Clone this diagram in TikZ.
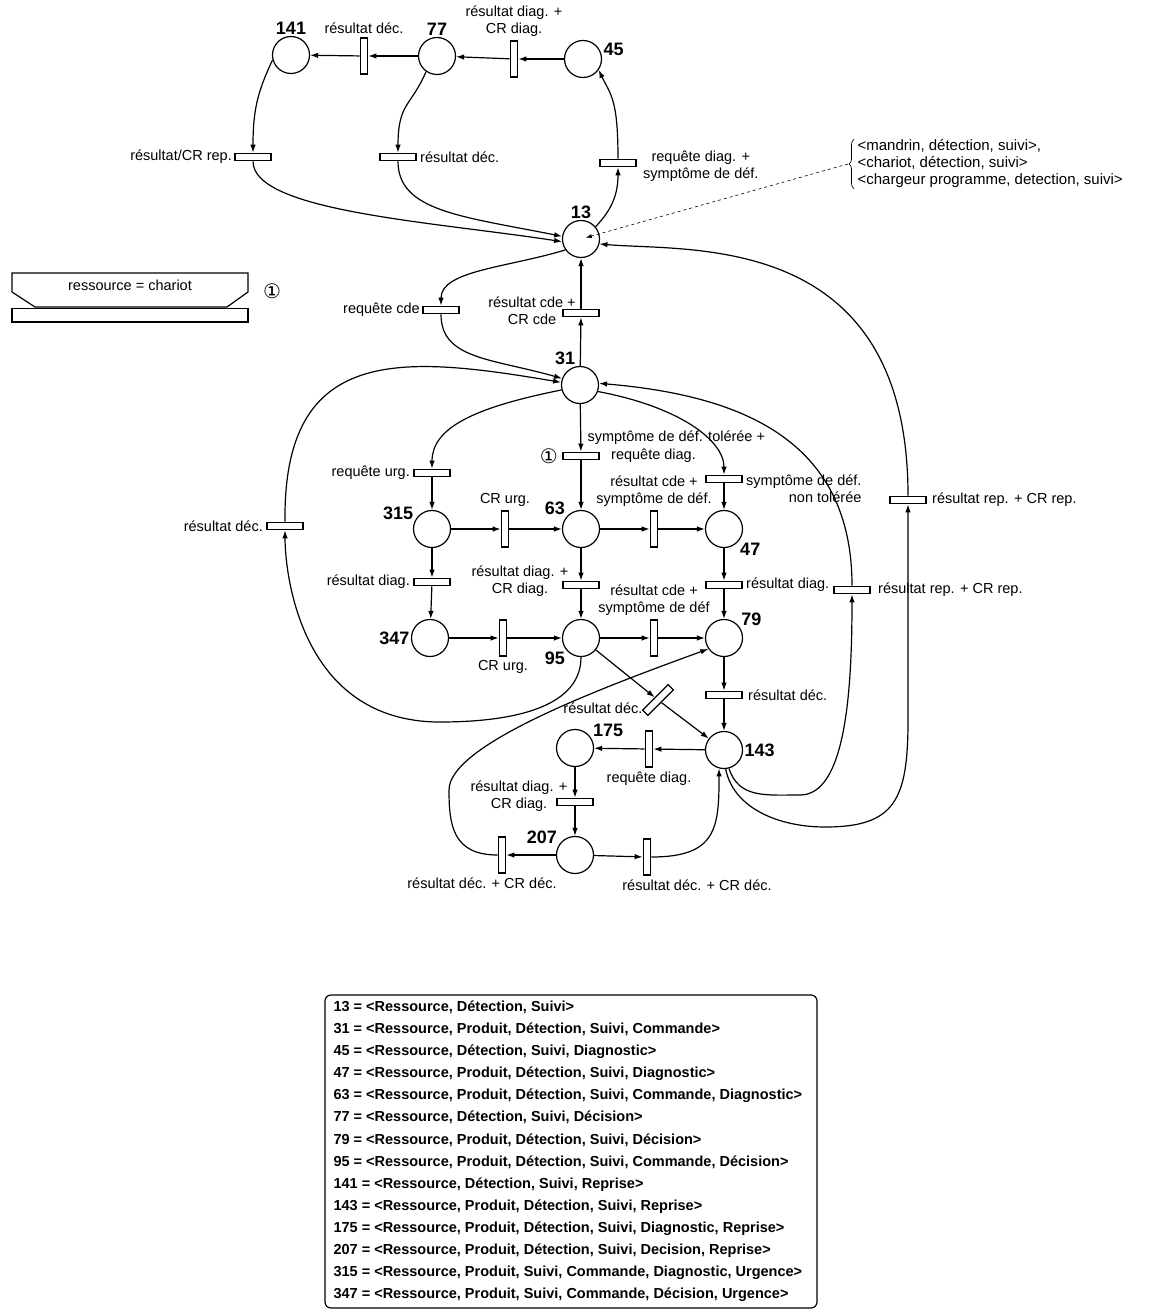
\documentclass[tikz,border=0pt]{standalone}
\usepackage{fontspec}
\setmainfont{Liberation Sans}
\newfontfamily\circfont{DejaVu Sans}
\usetikzlibrary{arrows.meta,positioning,decorations.pathreplacing}

\begin{document}
\begin{tikzpicture}[x=1pt,y=-1pt,line width=1.2pt,
  >={Latex[length=8pt,width=5.5pt]},
  place/.style={circle,draw,minimum size=37pt,inner sep=0pt},
  htrans/.style={rectangle,draw,fill=white,minimum width=36pt,minimum height=7.5pt,inner sep=0pt},
  vtrans/.style={rectangle,draw,fill=white,minimum width=7.5pt,minimum height=36pt,inner sep=0pt},
  num/.style={font=\fontsize{18}{20}\selectfont\bfseries,inner sep=1pt},
  lbl/.style={font=\fontsize{14.5}{17}\selectfont,inner sep=1pt,align=center},
  circ/.style={font=\circfont\fontsize{20}{20}\selectfont,inner sep=0pt},
  legend/.style={font=\fontsize{14.5}{17}\selectfont\bfseries,anchor=west,inner sep=0pt}]
\useasboundingbox (0,0) rectangle (1149,1316);

% places
\node[place,label={[num,name=n141]above:141}] (p141) at (291,55) {};
\node[place,label={[num,name=n77]above:77}] (p77) at (437,56) {};
\node[place,label={[num,name=n45]5:45}] (p45) at (583,59) {};
\node[place,label={[num,name=n13]above:13}] (p13) at (581,239) {};
\node[place,label={[num,name=n31]100:31}] (p31) at (580,385) {};
\node[place,label={[num,name=n315]155:315}] (p315) at (432,529) {};
\node[place,label={[num,name=n63]140:63}] (p63) at (581,529) {};
\node[place,label={[num,name=n47]-40:47}] (p47) at (724,529) {};
\node[place,label={[num,name=n347]180:347}] (p347) at (430,638) {};
\node[place,label={[num,name=n95]-140:95}] (p95) at (581,638) {};
\node[place,label={[num,name=n79]35:79}] (p79) at (724,638) {};
\node[place,label={[num,name=n143]0:143}] (p143) at (724,750) {};
\node[place,label={[num,name=n175]30:175}] (p175) at (575,748) {};
\node[place,label={[num,name=n207]150:207}] (p207) at (575,855) {};

% transitions
\node[vtrans] (t1) at (364,56) {};
\node[vtrans] (t2) at (514,59) {};
\node[htrans] (t3) at (253,157) {};
\node[htrans] (t4) at (398,157) {};
\node[htrans] (t5) at (618,163) {};
\node[htrans] (t6) at (441,310) {};
\node[htrans] (t7) at (581,313) {};
\node[htrans] (t8) at (581,456) {};
\node[htrans] (t9) at (432,473) {};
\node[vtrans] (t10) at (505,529) {};
\node[vtrans] (t11) at (654,529) {};
\node[htrans] (t12) at (724,479) {};
\node[htrans] (t13) at (432,582) {};
\node[htrans] (t14) at (581,585) {};
\node[htrans] (t15) at (724,585) {};
\node[vtrans] (t16) at (503,638) {};
\node[vtrans] (t17) at (654,638) {};
\node[htrans] (t18) at (285,526) {};
\node[htrans] (t19) at (852,590) {};
\node[htrans] (t20) at (908,500) {};
\node[htrans,rotate=45] (t21) at (658,700) {};
\node[htrans] (t22) at (724,695) {};
\node[vtrans] (t23) at (649,749) {};
\node[htrans] (t24) at (575,802) {};
\node[vtrans] (t25) at (502,855) {};
\node[vtrans] (t26) at (647,857) {};

% labels
\node[lbl,above=2pt of t1] (l1) {résultat déc.};
\node[lbl,above=2pt of t2] (l2) {résultat diag. +\\CR diag.};
\node[lbl,left=1pt of t3] (l3) {résultat/CR rep.};
\node[lbl,right=2pt of t4] (l4) {résultat déc.};
\node[lbl,right=5pt of t5,yshift=-3pt] (l5) {requête diag. +\\symptôme de déf.};
\node[lbl,left=1pt of t6] (l6) {requête cde};
\node[lbl] (l7) at ([xshift=-49pt,yshift=2pt]t7.center) {résultat cde +\\CR cde};
\node[lbl,anchor=west] (l8a) at (586,438) {symptôme de déf. tolérée +};
\node[lbl,right=10pt of t8] (l8b) {requête diag.};
\node[circ,left=4pt of t8] (c8) {①};
\node[lbl,left=2pt of t9] (l9) {requête urg.};
\node[lbl,above=2pt of t10] (l10) {CR urg.};
\node[lbl,above=2pt of t11] (l11) {résultat cde +\\symptôme de déf.};
\node[lbl,anchor=north west,align=right] (l12) at ([xshift=2pt,yshift=6pt]t12.east) {symptôme de déf.\\non tolérée};
\node[lbl,left=2pt of t13] (l13) {résultat diag.};
\node[lbl] (l14) at ([xshift=-61pt,yshift=4pt]t14.center) {résultat diag. +\\CR diag.};
\node[lbl,right=2pt of t15] (l15) {résultat diag.};
\node[lbl,below=2pt of t16] (l16) {CR urg.};
\node[lbl,above=2pt of t17] (l17) {résultat cde +\\symptôme de déf};
\node[lbl,left=2pt of t18] (l18) {résultat déc.};
\node[lbl,right=6pt of t19] (l19) {résultat rep. + CR rep.};
\node[lbl,right=4pt of t20] (l20) {résultat rep. + CR rep.};
\node[lbl,anchor=east] (l21) at ([shift={(-14,8)}]t21.center) {résultat déc.};
\node[lbl,right=4pt of t22] (l22) {résultat déc.};
\node[lbl,below=3pt of t23] (l23) {requête diag.};
\node[lbl] (l24) at ([xshift=-56pt,yshift=6pt]t24.center) {résultat diag. +\\CR diag.};
\node[lbl,below=3pt of t25,xshift=-20pt] (l25) {résultat déc. + CR déc.};
\node[lbl,below=3pt of t26,xshift=50pt] (l26) {résultat déc. + CR déc.};

% resources of 13
\node[anchor=west,font=\fontsize{15}{17}\selectfont,inner sep=0pt,align=left] (res13) at (857,164)
  {<mandrin, détection, suivi>,\\<chariot, détection, suivi>\\<chargeur programme, detection, suivi>};
\draw[line width=0.7pt,decorate,decoration={brace,amplitude=5pt}] ([xshift=-3pt]res13.south west) -- ([xshift=-3pt]res13.north west);
\coordinate (btip) at ([xshift=-9pt]res13.west);
\draw[->,dashed,line width=0.6pt,>={Latex[length=6pt,width=4pt]},shorten >=5pt] (btip) -- (p13.center);

% top loop
\draw[->] (p45) -- (t2);
\draw[->] (t2) -- (p77);
\draw[->] (p77) -- (t1);
\draw[->] (t1) -- (p141);
\draw[->] (p141.195) .. controls +(-14,30) and +(0,-45) .. (t3.north);
\draw[->] (t3.south) .. controls +(0,50) and +(-130,-20) .. (p13.188);
\draw[->] (p77.235) .. controls +(-15,35) and +(0,-50) .. (t4.north);
\draw[->] (t4.south) .. controls +(0,50) and +(-100,-20) .. (p13.172);
\draw[->] (p13.40) .. controls +(14,-15) and +(0,30) .. (t5.south);
\draw[->] (t5.north) .. controls +(0,-60) and +(12,25) .. (p45.-35);

% 13 <-> 31
\draw[->] (p13.215) .. controls +(-60,18) and +(0,-35) .. (t6.north);
\draw[->] (t6.south) .. controls +(0,45) and +(-70,-20) .. (p31.160);
\draw[->] (p31) -- (t7);
\draw[->] (t7) -- (p13);
\draw[->] (t18.north) .. controls (283,345) and (400,355) .. (p31.172);
\draw[->] (p95.south) .. controls +(0,55) and +(60,0) .. (440,722) .. controls +(-140,0) and +(0,42) .. (t18.south);

% middle
\draw[->] (p31.195) .. controls +(-90,18) and +(0,-40) .. (t9.north);
\draw[->] (p31) -- (t8);
\draw[->] (t8) -- (p63);
\draw[->] (p31.-20) .. controls +(80,15) and +(0,-35) .. (t12.north);
\draw[->] (t12) -- (p47);
\draw[->] (p47) -- (t15);
\draw[->] (t15) -- (p79);
\draw[->] (p79) -- (t22);
\draw[->] (t22) -- (p143);
\draw[->] (t9) -- (p315);
\draw[->] (p315) -- (t10);
\draw[->] (t10) -- (p63);
\draw[->] (p63) -- (t11);
\draw[->] (t11) -- (p47);
\draw[->] (p315) -- (t13);
\draw[->] (t13) -- (p347);
\draw[->] (p347) -- (t16);
\draw[->] (t16) -- (p95);
\draw[->] (p95) -- (t17);
\draw[->] (t17) -- (p79);
\draw[->] (p63) -- (t14);
\draw[->] (t14) -- (p95);
\draw[->] (p95) -- (t21);
\draw[->] (t21) -- (p143);

% bottom
\draw[->] (p143) -- (t23);
\draw[->] (t23) -- (p175);
\draw[->] (p175) -- (t24);
\draw[->] (t24) -- (p207);
\draw[->] (p207) -- (t25);
\draw[->] (p207) -- (t26);
\draw[->] (t25.west) .. controls +(-45,0) and +(0,35) .. (449,790) .. controls +(0,-45) and +(-110,40) .. (p79.215);
\draw[->] (t26.east) .. controls +(65,0) and +(0,60) .. (p143.255);

% returns to 31 and 13
\draw[->] (p143.-75) .. controls +(10,30) and +(-35,0) .. (800,795) .. controls +(45,0) and +(0,100) .. (t19.south);
\draw[->] (p143.-85) .. controls +(8,40) and +(-45,0) .. (825,827) .. controls +(70,0) and +(0,80) .. (908,720) -- (t20.south);
\draw[->] (t19.north) .. controls +(0,-146) and +(142,12) .. (p31.5);
\draw[->] (t20.north) .. controls +(0,-266) and +(90,8) .. (p13.-15);

% resource box
\draw (12,292) -- (12,273) -- (248,273) -- (248,292) -- (227,307) -- (35,307) -- cycle;
\draw (12,308.5) rectangle (248,322);
\node[lbl] (res) at (130,285) {ressource = chariot};
\node[circ] (c0) at (272,291) {①};

% legend
\draw[rounded corners=6pt] (325,995) rectangle (817,1308);
\foreach \nm/\fld [count=\k from 0] in {13/{Ressource, Détection, Suivi},
  31/{Ressource, Produit, Détection, Suivi, Commande},
  45/{Ressource, Détection, Suivi, Diagnostic},
  47/{Ressource, Produit, Détection, Suivi, Diagnostic},
  63/{Ressource, Produit, Détection, Suivi, Commande, Diagnostic},
  77/{Ressource, Détection, Suivi, Décision},
  79/{Ressource, Produit, Détection, Suivi, Décision},
  95/{Ressource, Produit, Détection, Suivi, Commande, Décision},
  141/{Ressource, Détection, Suivi, Reprise},
  143/{Ressource, Produit, Détection, Suivi, Reprise},
  175/{Ressource, Produit, Détection, Suivi, Diagnostic, Reprise},
  207/{Ressource, Produit, Détection, Suivi, Decision, Reprise},
  315/{Ressource, Produit, Suivi, Commande, Diagnostic, Urgence},
  347/{Ressource, Produit, Suivi, Commande, Décision, Urgence}}
  \node[legend] (leg\nm) at (333,{1007+22.15*\k}) {\nm{} = <\fld>};
\end{tikzpicture}
\end{document}
